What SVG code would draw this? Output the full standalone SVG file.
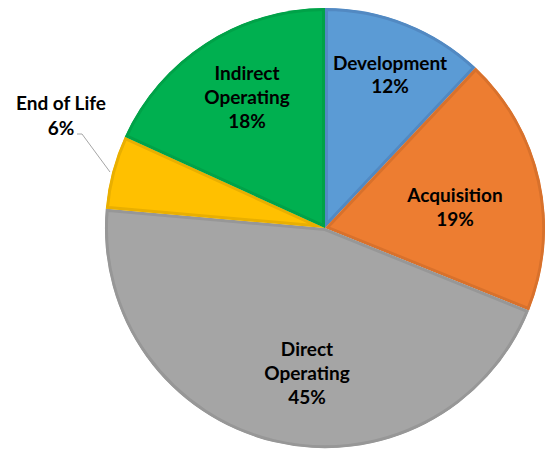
<svg xmlns="http://www.w3.org/2000/svg" width="545" height="451" viewBox="0 0 545 451">
<style>
.lbl{font-family:Lato,"Liberation Sans",sans-serif;font-weight:bold;font-size:19px;fill:#000;text-anchor:middle}
.sl{stroke-width:6}
</style>
<defs>
<path id="pDev" d="M325,228 L325,8 A220,220 0 0 1 475.6,67.6 Z"/>
<path id="pAcq" d="M325,228 L475.6,67.6 A220,220 0 0 1 529,310.4 Z"/>
<path id="pDir" d="M325,228 L529,310.4 A220,220 0 0 1 105.8,208.8 Z"/>
<path id="pEnd" d="M325,228 L105.8,208.8 A220,220 0 0 1 124.8,136.8 Z"/>
<path id="pInd" d="M325,228 L124.8,136.8 A220,220 0 0 1 325,8 Z"/>
<clipPath id="cDev"><use href="#pDev"/></clipPath>
<clipPath id="cAcq"><use href="#pAcq"/></clipPath>
<clipPath id="cDir"><use href="#pDir"/></clipPath>
<clipPath id="cEnd"><use href="#pEnd"/></clipPath>
<clipPath id="cInd"><use href="#pInd"/></clipPath>
</defs>
<rect width="545" height="451" fill="#fff"/>
<g id="development">
<use href="#pDev" class="sl" fill="#5B9BD5" stroke="#5289C2" clip-path="url(#cDev)"/>
<text class="lbl" x="390" y="70">Development</text>
<text class="lbl" x="390" y="93">12%</text>
</g>
<g id="acquisition">
<use href="#pAcq" class="sl" fill="#ED7D31" stroke="#D8712C" clip-path="url(#cAcq)"/>
<text class="lbl" x="455" y="202">Acquisition</text>
<text class="lbl" x="455" y="226">19%</text>
</g>
<g id="direct-operating">
<use href="#pDir" class="sl" fill="#A5A5A5" stroke="#979797" clip-path="url(#cDir)"/>
<text class="lbl" x="307" y="356">Direct</text>
<text class="lbl" x="307" y="380">Operating</text>
<text class="lbl" x="307" y="404">45%</text>
</g>
<g id="end-of-life">
<use href="#pEnd" class="sl" fill="#FFC000" stroke="#E9AF00" clip-path="url(#cEnd)"/>
<text class="lbl" x="61" y="110">End of Life</text>
<text class="lbl" x="61" y="135">6%</text>
</g>
<g id="indirect-operating">
<use href="#pInd" class="sl" fill="#00B050" stroke="#00A248" clip-path="url(#cInd)"/>
<text class="lbl" x="247" y="80">Indirect</text>
<text class="lbl" x="247" y="104">Operating</text>
<text class="lbl" x="247" y="128">18%</text>
</g>
<g id="connectors">
<polyline points="77,134 82,134 110,172" fill="none" stroke="#A6A6A6" stroke-width="1"/>
</g>
</svg>
